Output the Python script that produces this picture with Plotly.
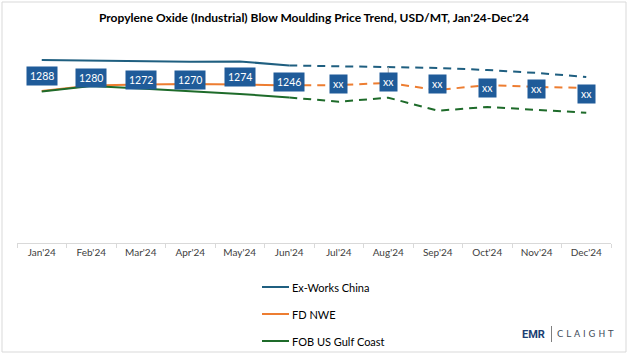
import plotly.graph_objects as go

months = ["Jan'24", "Feb'24", "Mar'24", "Apr'24", "May'24", "Jun'24",
          "Jul'24", "Aug'24", "Sep'24", "Oct'24", "Nov'24", "Dec'24"]
ex_works_china = [1533, 1528, 1524, 1518, 1520, 1487, 1478, 1474, 1466, 1449, 1424, 1390]
fd_nwe = [1273, 1319, 1327, 1332, 1327, 1319, 1323, 1340, 1281, 1323, 1307, 1298]
fob_us_gulf = [1269, 1315, 1294, 1273, 1248, 1219, 1183, 1217, 1108, 1139, 1114, 1091]
label_texts = ["1288", "1280", "1272", "1270", "1274", "1246", "xx", "xx", "xx", "xx", "xx", "xx"]
label_y = [1400, 1378, 1365, 1369, 1392, 1348, 1330, 1345, 1332, 1296, 1288, 1244]

series_names = ["Ex-Works China", "FD NWE", "FOB US Gulf Coast"]
series_values = [ex_works_china, fd_nwe, fob_us_gulf]
series_colors = ["#1f5f80", "#ed7d31", "#1e6b2a"]

SPLIT = 5  # Jun'24 index: solid up to here, dashed after

fig = go.Figure()
for name, vals, color in zip(series_names, series_values, series_colors):
    fig.add_trace(go.Scatter(
        x=months[:SPLIT + 1], y=vals[:SPLIT + 1], mode="lines", name=name,
        line=dict(color=color, width=2), showlegend=False, hoverinfo="skip"))
for name, vals, color in zip(series_names, series_values, series_colors):
    fig.add_trace(go.Scatter(
        x=months[SPLIT:], y=vals[SPLIT:], mode="lines", name=name,
        line=dict(color=color, width=2, dash="8px,6px"),
        showlegend=False, hoverinfo="skip"))

# data label boxes
for m, t, yv in zip(months, label_texts, label_y):
    fig.add_annotation(x=m, y=yv, text=t, showarrow=False,
                       font=dict(family="Lato, Open Sans, sans-serif", size=10.5, color="white"),
                       bgcolor="#1f5b99", borderpad=3)

# leader line at Aug
fig.add_shape(type="line", xref="x", yref="y", x0="Aug'24", x1="Aug'24",
              y0=ex_works_china[7], y1=label_y[7] + 35,
              line=dict(color="#a6a6a6", width=1))

L, R, T, B = 17, 18, 40, 113
W = 629 - L - R
H = 356 - T - B
def px(x):
    return (x - L) / W
def py(y):
    return (356 - B - y) / H

# outer border
fig.add_shape(type="rect", xref="paper", yref="paper",
              x0=px(2), x1=px(626), y0=py(352), y1=py(2),
              line=dict(color="#d9d9d9", width=1))

# legend (drawn in the bottom margin)
legend_rows = [287, 314, 341]
for name, color, yy in zip(series_names, series_colors, legend_rows):
    fig.add_shape(type="line", xref="paper", yref="paper",
                  x0=px(262), x1=px(289), y0=py(yy), y1=py(yy),
                  line=dict(color=color, width=2))
    fig.add_annotation(xref="paper", yref="paper", x=px(290), y=py(yy),
                       xanchor="left", yanchor="middle", text=name, showarrow=False,
                       font=dict(family="Lato, sans-serif", size=11, color="#000000"))

# logo
fig.add_annotation(xref="paper", yref="paper", x=px(520), y=py(334), xanchor="left", yanchor="middle",
                   text="<b>EMR</b>", showarrow=False,
                   font=dict(family="Roboto, sans-serif", size=11, color="#1b3f73"))
fig.add_shape(type="line", xref="paper", yref="paper", x0=px(551.5), x1=px(551.5),
              y0=py(342), y1=py(326), line=dict(color="#7f7f7f", width=1))
fig.add_annotation(xref="paper", yref="paper", x=px(555), y=py(334), xanchor="left", yanchor="middle",
                   text="C L A I G H T", showarrow=False,
                   font=dict(family="DejaVu Sans, sans-serif", size=9, color="#404a57"))

fig.update_layout(
    width=629, height=356,
    margin=dict(l=L, r=R, t=T, b=B),
    paper_bgcolor="white", plot_bgcolor="white",
    title=dict(text="<b>Propylene Oxide (Industrial) Blow Moulding Price Trend, USD/MT, Jan'24-Dec'24</b>",
               x=0.5, xref="paper", xanchor="center", y=1 - 18 / 356, yanchor="middle",
               font=dict(family="Lato, sans-serif", size=12, color="#000000")),
    showlegend=False,
    xaxis=dict(type="category", categoryorder="array", categoryarray=months,
               range=[-0.5, len(months) - 0.5], autorange=False,
               tickson="boundaries", ticks="outside", ticklen=4, tickcolor="#d9d9d9",
               showline=True, linecolor="#d9d9d9", linewidth=1, showgrid=False,
               tickfont=dict(family="Lato, sans-serif", size=10, color="#404040"),
               fixedrange=True),
    yaxis=dict(range=[0, 1700], autorange=False, visible=False, showgrid=False,
               zeroline=False, fixedrange=True),
)

fig.write_html("out.html", config={"displayModeBar": False},
               post_script="document.body.style.margin='0';")
